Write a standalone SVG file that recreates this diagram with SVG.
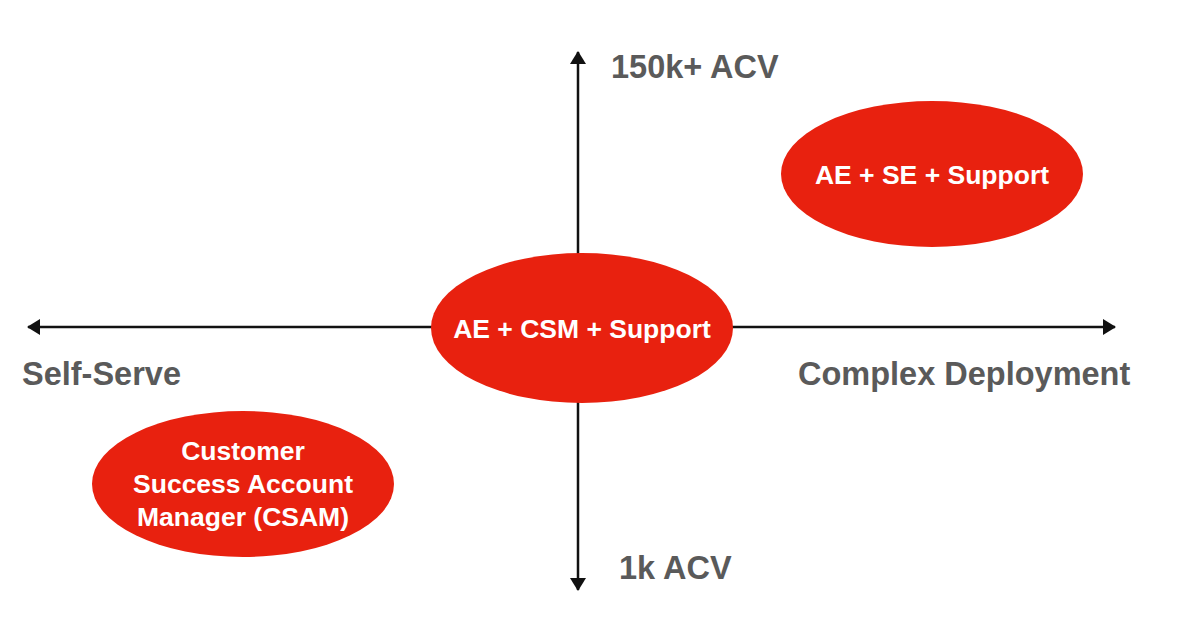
<svg xmlns="http://www.w3.org/2000/svg" width="1200" height="641" viewBox="0 0 1200 641">
<defs>
<style>
.ax{stroke:#111;stroke-width:2.5;fill:none}
.lbl{font-family:"Liberation Sans",Arial,sans-serif;font-weight:bold;font-size:32.5px;fill:#5a5a5a}
.node ellipse{fill:#E8210F}
.node text{font-family:"Liberation Sans",Arial,sans-serif;font-weight:bold;font-size:26.5px;fill:#fff;text-anchor:middle}
</style>
<marker id="ah" viewBox="0 0 13 16" refX="12" refY="8" markerWidth="13" markerHeight="16" markerUnits="userSpaceOnUse" orient="auto-start-reverse">
<path d="M0,0 L13,8 L0,16 z" fill="#111"/>
</marker>
</defs>
<rect width="1200" height="641" fill="#fff"/>
<g id="connectors">
<path class="ax" d="M578,590 L578,52" marker-start="url(#ah)" marker-end="url(#ah)"/>
<path class="ax" d="M28,327 L1115,327" marker-start="url(#ah)" marker-end="url(#ah)"/>
</g>
<g id="labels">
<text class="lbl" x="611" y="78">150k+ ACV</text>
<text class="lbl" x="619" y="579">1k ACV</text>
<text class="lbl" x="22" y="385">Self-Serve</text>
<text class="lbl" x="798" y="385">Complex Deployment</text>
</g>
<g id="node-center" class="node">
<ellipse cx="582" cy="328" rx="151" ry="75"/>
<text x="582" y="338">AE + CSM + Support</text>
</g>
<g id="node-topright" class="node">
<ellipse cx="932" cy="174" rx="151" ry="73"/>
<text x="932" y="184">AE + SE + Support</text>
</g>
<g id="node-bottomleft" class="node">
<ellipse cx="243" cy="484" rx="151" ry="73"/>
<text x="243" y="460">Customer</text>
<text x="243" y="493">Success Account</text>
<text x="243" y="526">Manager (CSAM)</text>
</g>
</svg>
